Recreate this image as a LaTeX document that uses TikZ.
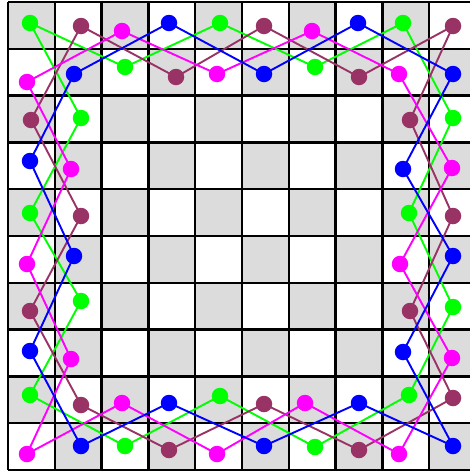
\documentclass[tikz,border=0pt]{standalone}
\usetikzlibrary{backgrounds}
\definecolor{cgreen}{RGB}{0,255,0}
\definecolor{cpurple}{RGB}{153,51,102}
\definecolor{cmag}{RGB}{255,0,255}
\definecolor{cblue}{RGB}{0,0,255}
\definecolor{cellgray}{RGB}{220,220,220}
\tikzset{
  dot/.style={circle,fill=#1,inner sep=0pt,minimum size=16.5pt},
  tour/.style={draw=#1,line width=1.9pt,line join=round},
  gridline/.style={draw=black,line width=2.4pt},
}
\begin{document}
\begin{tikzpicture}[x=1pt,y=-1pt]
\useasboundingbox (0,0) rectangle (470,472);
\begin{scope}[on background layer]
\clip (0,0) rectangle (470,472);
\fill[white] (0,0) rectangle (470,472);
\foreach \i in {0,...,9}{
  \foreach \j in {0,...,9}{
    \pgfmathtruncatemacro{\cpar}{mod(\i+\j,2)}
    \ifnum\cpar=0
      \fill[cellgray] ({8+46.8*\i},{2+46.8*\j}) rectangle ({8+46.8*(\i+1)},{2+46.8*(\j+1)});
    \fi
  }
}
\foreach \i in {0,...,10}{
  \draw[gridline] ({8+46.8*\i},2) -- ({8+46.8*\i},470);
  \draw[gridline] (8,{2+46.8*\i}) -- (476,{2+46.8*\i});
}
\end{scope}
% green
\node[dot=cgreen] (g1) at (30,23) {};
\node[dot=cgreen] (g2) at (125,67) {};
\node[dot=cgreen] (g3) at (220,23) {};
\node[dot=cgreen] (g4) at (315,67) {};
\node[dot=cgreen] (g5) at (403,23) {};
\node[dot=cgreen] (g6) at (453,118) {};
\node[dot=cgreen] (g7) at (409,213) {};
\node[dot=cgreen] (g8) at (453,307) {};
\node[dot=cgreen] (g9) at (409,395) {};
\node[dot=cgreen] (g10) at (315,447) {};
\node[dot=cgreen] (g11) at (220,396) {};
\node[dot=cgreen] (g12) at (125,446) {};
\node[dot=cgreen] (g13) at (30,395) {};
\node[dot=cgreen] (g14) at (81,301) {};
\node[dot=cgreen] (g15) at (30,213) {};
\node[dot=cgreen] (g16) at (81,118) {};
% purple
\node[dot=cpurple] (p1) at (81,26) {};
\node[dot=cpurple] (p2) at (176,77) {};
\node[dot=cpurple] (p3) at (264,26) {};
\node[dot=cpurple] (p4) at (359,77) {};
\node[dot=cpurple] (p5) at (453,26) {};
\node[dot=cpurple] (p6) at (410,120) {};
\node[dot=cpurple] (p7) at (453,216) {};
\node[dot=cpurple] (p8) at (410,311) {};
\node[dot=cpurple] (p9) at (453,398) {};
\node[dot=cpurple] (p10) at (359,450) {};
\node[dot=cpurple] (p11) at (264,404) {};
\node[dot=cpurple] (p12) at (169,450) {};
\node[dot=cpurple] (p13) at (81,405) {};
\node[dot=cpurple] (p14) at (30,311) {};
\node[dot=cpurple] (p15) at (81,216) {};
\node[dot=cpurple] (p16) at (31,120) {};
% magenta
\node[dot=cmag] (m1) at (122,31) {};
\node[dot=cmag] (m2) at (217,74) {};
\node[dot=cmag] (m3) at (312,31) {};
\node[dot=cmag] (m4) at (399,74) {};
\node[dot=cmag] (m5) at (452,168) {};
\node[dot=cmag] (m6) at (400,264) {};
\node[dot=cmag] (m7) at (452,358) {};
\node[dot=cmag] (m8) at (399,454) {};
\node[dot=cmag] (m9) at (305,403) {};
\node[dot=cmag] (m10) at (217,454) {};
\node[dot=cmag] (m11) at (122,403) {};
\node[dot=cmag] (m12) at (27,454) {};
\node[dot=cmag] (m13) at (71,359) {};
\node[dot=cmag] (m14) at (27,264) {};
\node[dot=cmag] (m15) at (71,169) {};
\node[dot=cmag] (m16) at (27,82) {};
% blue
\node[dot=cblue] (b1) at (74,74) {};
\node[dot=cblue] (b2) at (169,23) {};
\node[dot=cblue] (b3) at (264,74) {};
\node[dot=cblue] (b4) at (358,23) {};
\node[dot=cblue] (b5) at (453,74) {};
\node[dot=cblue] (b6) at (403,169) {};
\node[dot=cblue] (b7) at (453,256) {};
\node[dot=cblue] (b8) at (403,352) {};
\node[dot=cblue] (b9) at (453,446) {};
\node[dot=cblue] (b10) at (359,403) {};
\node[dot=cblue] (b11) at (264,446) {};
\node[dot=cblue] (b12) at (169,403) {};
\node[dot=cblue] (b13) at (81,446) {};
\node[dot=cblue] (b14) at (30,351) {};
\node[dot=cblue] (b15) at (74,256) {};
\node[dot=cblue] (b16) at (30,161) {};
\begin{scope}[on background layer]
\foreach \c/\col in {g/cgreen,p/cpurple,m/cmag,b/cblue}{
  \foreach \k [evaluate=\k as \n using {int(mod(\k,16)+1)}] in {1,...,16}{
    \draw[tour=\col] (\c\k.center) -- (\c\n.center);
  }
}
\end{scope}
\end{tikzpicture}
\end{document}
